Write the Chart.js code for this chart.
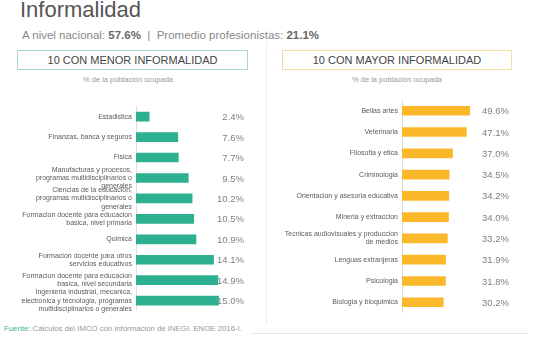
<!DOCTYPE html>
<html>
<head>
<meta charset="utf-8">
<script src="https://cdn.jsdelivr.net/npm/chart.js@4.4.1/dist/chart.umd.min.js"></script>
<style>
  body { margin: 0; background: #fff; font-family: "Liberation Sans", Arial, sans-serif; }
  #page { position: relative; width: 534px; height: 338px; overflow: hidden; }
  .abs { position: absolute; }
  #title { left: 20px; top: -3px; font-size: 22px; color: #555; }
  #sub { left: 22px; top: 29px; font-size: 11.5px; color: #888; white-space: nowrap; }
  #sub b { color: #666; }
  .box { top: 50px; height: 18px; border: 1px solid; text-align: center; font-size: 11px; line-height: 18px; color: #444; }
  #boxL { left: 17px; width: 229px; border-color: #a9d8cd; }
  #boxR { left: 282px; width: 228px; border-color: #f1dca6; }
  .note { top: 75px; font-size: 7.5px; color: #999; text-align: center; width: 200px; }
  #divider { left: 266px; top: 42px; width: 1px; height: 282px; background: #ececec; }
  #rule { left: 250px; top: 333px; width: 278px; height: 1px; background: #e8e8e8; }
  #src { left: 4px; top: 324px; font-size: 7.8px; color: #999; white-space: nowrap; }
  #src span { color: #3fb59d; }
</style>
</head>
<body>
<div id="page">
  <div id="title" class="abs">Informalidad</div>
  <div id="sub" class="abs">A nivel nacional: <b>57.6%</b> &nbsp;|&nbsp; Promedio profesionistas: <b>21.1%</b></div>
  <div id="boxL" class="abs box">10 CON MENOR INFORMALIDAD</div>
  <div id="boxR" class="abs box">10 CON MAYOR INFORMALIDAD</div>
  <div class="abs note" style="left:28px">% de la población ocupada</div>
  <div class="abs note" style="left:297px">% de la población ocupada</div>
  <div id="divider" class="abs"></div>
  <div id="rule" class="abs"></div>
  <div class="abs" style="left:0;top:90px"><canvas id="menor" width="266" height="229"></canvas></div>
  <div class="abs" style="left:266px;top:92px"><canvas id="mayor" width="268" height="229"></canvas></div>
  <div id="src" class="abs"><span>Fuente:</span> Cálculos del IMCO con información de INEGI. ENOE 2016-I.</div>
</div>
<script>
// carreras con menor informalidad
const menorLabels = [
    "Estadistica",
    "Finanzas, banca y seguros",
    "Fisica",
    ["Manufacturas y procesos,", "programas multidisciplinarios o", "generales"],
    ["Ciencias de la educacion,", "programas multidisciplinarios o", "generales"],
    ["Formacion docente para educacion", "basica, nivel primaria"],
    "Quimica",
    ["Formacion docente para otros", "servicios educativos"],
    ["Formacion docente para educacion", "basica, nivel secundaria"],
    ["Ingenieria industrial, mecanica,", "electronica y tecnologia, programas", "multidisciplinarios o generales"]
];
const menorValues = [2.4, 7.6, 7.7, 9.5, 10.2, 10.5, 10.9, 14.1, 14.9, 15.0];

// carreras con mayor informalidad
const mayorLabels = [
    "Bellas artes",
    "Veterinaria",
    "Filosofia y etica",
    "Criminologia",
    "Orientacion y asesoria educativa",
    "Mineria y extraccion",
    ["Tecnicas audiovisuales y produccion", "de medios"],
    "Lenguas extranjeras",
    "Psicologia",
    "Biologia y bioquimica"
];
const mayorValues = [49.6, 47.1, 37.0, 34.5, 34.2, 34.0, 33.2, 31.9, 31.8, 30.2];

// writes the percentage at a fixed column, right aligned
const valueLabels = {
    id: 'valueLabels',
    afterDatasetsDraw(chart, args, opts) {
        const ctx = chart.ctx;
        const meta = chart.getDatasetMeta(0);
        ctx.save();
        ctx.font = '9.5px "Liberation Sans", Arial, sans-serif';
        ctx.fillStyle = '#808080';
        ctx.textAlign = 'right';
        ctx.textBaseline = 'middle';
        meta.data.forEach((bar, i) => {
            ctx.fillText(chart.data.datasets[0].data[i].toFixed(1) + '%', opts.x, bar.y + 1);
        });
        ctx.restore();
    }
};

function makeChart(id, labels, values, color, max, padRight, valueX) {
    return new Chart(document.getElementById(id), {
        type: 'bar',
        data: {
            labels: labels,
            datasets: [{ data: values, backgroundColor: color, barThickness: 9 }]
        },
        options: {
            indexAxis: 'y',
            responsive: false,
            animation: false,
            devicePixelRatio: 1,
            layout: { padding: { right: padRight, top: 0, bottom: 0 } },
            plugins: { legend: { display: false }, tooltip: { enabled: false }, valueLabels: { x: valueX } },
            scales: {
                x: { display: false, min: 0, max: max },
                y: {
                    grid: { display: false, drawTicks: false },
                    border: { display: true, color: '#dedede', width: 1 },
                    ticks: {
                        autoSkip: false,
                        padding: 4,
                        color: '#5a5a5a',
                        font: { family: '"Liberation Sans", Arial, sans-serif', size: 7, lineHeight: 1.18 }
                    },
                    afterFit(scale) { scale.width = 136; }
                }
            }
        },
        plugins: [valueLabels]
    });
}

makeChart('menor', menorLabels, menorValues, '#2db08f', 20, 20, 244);
makeChart('mayor', mayorLabels, mayorValues, '#fbb82b', 60, 50, 243);
</script>
</body>
</html>
